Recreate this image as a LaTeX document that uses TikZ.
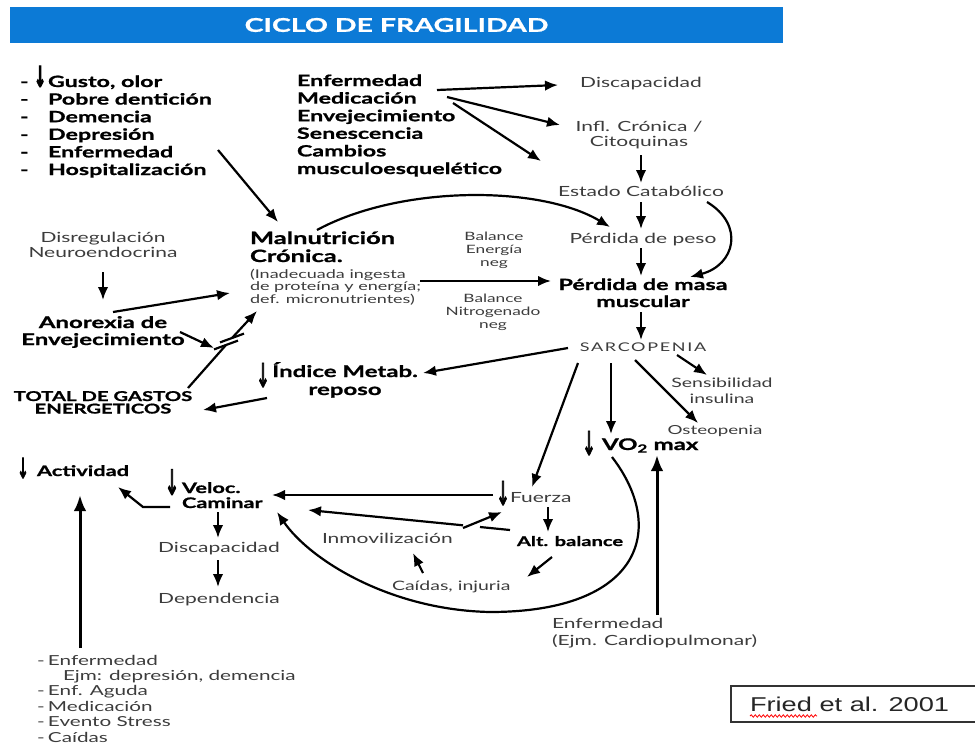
\documentclass[tikz,border=0pt]{standalone}
\usepackage{fontspec}
\setmainfont{Lato}[FakeStretch=1.5, BoldFeatures={FakeBold=1}]
\newfontfamily\symf{DejaVu Sans}[FakeStretch=0.5, FakeBold=2.5]
\newfontfamily\arialf{Liberation Sans}[FakeStretch=1.36]
\usetikzlibrary{arrows.meta,calc,decorations.pathmorphing}
\definecolor{titleblue}{RGB}{12,122,214}
\definecolor{lg}{RGB}{60,60,60}
\newcommand\darrow[1]{{\symf\fontsize{#1}{#1}\selectfont ↓}}
\newcommand\cstack[1]{\vtop{\halign{\hfil##\hfil\cr#1\crcr}}}
\newcommand\lstack[1]{\vtop{\halign{##\hfil\cr#1\crcr}}}
\tikzset{
  every node/.style={inner sep=0pt, outer sep=0pt},
  btxt/.style={text=black, font=\fontsize{15.5}{17.6}\selectfont\bfseries},
  ltxt/.style={text=lg, font=\fontsize{14}{15}\selectfont},
  darr/.style={text=black, font=\symf\fontsize{33}{33}\selectfont},
  conn/.style={draw=black, line width=2.2pt, -{Latex[length=13pt,width=10.5pt]}},
  thickconn/.style={draw=black, line width=3pt, -{Latex[length=16pt,width=12.5pt]}},
  plainline/.style={draw=black, line width=2.2pt},
  titlebar/.style={fill=titleblue, minimum width=773, minimum height=36, text=white,
    font=\fontsize{19}{19}\selectfont\bfseries}
}
\begin{document}
\begin{tikzpicture}[x=1pt,y=-1pt]
\useasboundingbox (0,0) rectangle (975,745);
\fill[white] (0,0) rectangle (975,745);

% title
\node[titlebar] (title) at (396.5,25) {CICLO DE FRAGILIDAD};

% upper lists
\node[btxt, anchor=base west] (causes) at (20,87)
 {\lstack{\makebox[14pt][l]{-}\makebox[14pt][l]{\raisebox{0pt}[0pt][0pt]{\darrow{29}}}Gusto, olor\cr
  \makebox[28pt][l]{-}Pobre dentición\cr
  \makebox[28pt][l]{-}Demencia\cr
  \makebox[28pt][l]{-}Depresión\cr
  \makebox[28pt][l]{-}Enfermedad\cr
  \makebox[28pt][l]{-}Hospitalización}};
\node[btxt, anchor=base west] (factors) at (297,86)
 {\lstack{Enfermedad\cr Medicación\cr Envejecimiento\cr Senescencia\cr Cambios\cr musculoesquelético}};

% right column
\node[ltxt, anchor=base] (discap1) at (641,87) {Discapacidad};
\node[ltxt, anchor=base] (infl) at (639,131) {\cstack{Infl. Crónica /\cr Citoquinas}};
\node[ltxt, anchor=base] (estado) at (641,196) {Estado Catabólico};
\node[ltxt, anchor=base] (peso) at (643,243) {Pérdida de peso};
\node[btxt, anchor=base, font=\fontsize{15.5}{17}\selectfont\bfseries] (masa) at (643,290) {\cstack{Pérdida de masa\cr muscular}};
\node[ltxt, anchor=base, font=\fontsize{12}{12}\selectfont\addfontfeature{LetterSpace=14}] (sarco) at (643,351) {SARCOPENIA};
\node[ltxt, anchor=base, font=\fontsize{13}{16}\selectfont] (sens) at (722,387) {\cstack{Sensibilidad\cr insulina}};
\node[ltxt, anchor=base, font=\fontsize{12.5}{13}\selectfont] (osteo) at (715,434) {Osteopenia};
\node[btxt, anchor=base west, font=\fontsize{16}{16}\selectfont\bfseries] (vo2) at (602,450) {VO\textsubscript{2} max};
\node[darr] (vo2arr) at (589,443) {↓};
\node[ltxt, anchor=base west] (fuerza) at (510,502) {Fuerza};
\node[darr] (fuerzaarr) at (503,493) {↓};
\node[btxt, anchor=base west, font=\fontsize{13.4}{15}\selectfont\bfseries] (altbal) at (517,546) {Alt. balance};
\node[ltxt, anchor=base west, font=\fontsize{13}{15}\selectfont] (caidas) at (392,590) {Caídas, injuria};
\node[ltxt, anchor=base west] (inmov) at (322,543) {Inmovilización};
\node[ltxt, anchor=base west, font=\fontsize{14}{17}\selectfont] (enfcard) at (552,628) {\lstack{Enfermedad\cr (Ejm. Cardiopulmonar)}};

% centre
\node[btxt, anchor=base west, font=\fontsize{17}{18}\selectfont\bfseries] (malnut) at (250,244) {\lstack{Malnutrición\cr Crónica.}};
\node[ltxt, anchor=base west, font=\fontsize{12}{12.5}\selectfont] (malsub) at (250,278) {\lstack{(Inadecuada ingesta\cr de proteína y energía;\cr def. micronutrientes)}};
\node[ltxt, anchor=base, font=\fontsize{11.5}{13}\selectfont] (bale) at (494,240) {\cstack{Balance\cr Energía\cr neg}};
\node[ltxt, anchor=base, font=\fontsize{11.5}{13}\selectfont] (baln) at (493,302) {\cstack{Balance\cr Nitrogenado\cr neg}};

% left
\node[ltxt, anchor=base, font=\fontsize{14}{15}\selectfont] (disreg) at (103,242) {\cstack{Disregulación\cr Neuroendocrina}};
\node[btxt, anchor=base, font=\fontsize{16}{17}\selectfont\bfseries] (anorexia) at (103,328) {\cstack{Anorexia de\cr Envejecimiento}};
\node[btxt, anchor=base, font=\fontsize{13.5}{12.5}\selectfont\bfseries] (total) at (103,401) {\cstack{TOTAL DE GASTOS\cr ENERGETICOS}};
\node[btxt, anchor=base, font=\fontsize{16}{18}\selectfont\bfseries] (indice) at (345,377) {\cstack{Índice Metab.\cr reposo}};
\node[darr] (indarr) at (263,375) {↓};

% lower left
\node[btxt, anchor=base west, font=\fontsize{14.5}{15}\selectfont\bfseries] (activ) at (37,476) {Actividad};
\node[darr, font=\symf\fontsize{28}{28}\selectfont] (activarr) at (23,468) {↓};
\node[btxt, anchor=base west, font=\fontsize{14.5}{15}\selectfont\bfseries] (veloc) at (182,493) {\lstack{Veloc.\cr Caminar}};
\node[darr, font=\symf\fontsize{35}{35}\selectfont] (velarr) at (172,482) {↓};
\node[ltxt, anchor=base] (discap2) at (219,552) {Discapacidad};
\node[ltxt, anchor=base] (depend) at (219,603) {Dependencia};
\node[ltxt, anchor=base west, font=\fontsize{13.8}{15.4}\selectfont] (list2) at (37,665)
 {\lstack{\makebox[11pt][l]{-}Enfermedad\cr
  \hspace*{26pt}Ejm: depresión, demencia\cr
  \makebox[11pt][l]{-}Enf. Aguda\cr
  \makebox[11pt][l]{-}Medicación\cr
  \makebox[11pt][l]{-}Evento Stress\cr
  \makebox[11pt][l]{-}Caídas}};

% citation
\draw[line width=1.2pt, draw=black!80] (731,686) rectangle (990,722);
\node[anchor=base west, font=\arialf\fontsize{20}{20}\selectfont, text=black!85] (fried) at (750,711) {Fried et al. 2001};
\draw[red, line width=0.8pt, decorate, decoration={snake, amplitude=1.2pt, segment length=4pt}]
  ($(fried.base west)+(0,5)$) -- ($(fried.base west)+(67,5)$);

% connectors
\draw[conn] ($(factors.base west)+(140,4)$) -- ($(discap1.base)+(-83,-2)$);
\draw[conn] ($(factors.base west)+(150,11)$) -- ($(infl.base)+(-79,-6)$);
\draw[conn] ($(factors.base west)+(156,17)$) -- ($(estado.base)+(-100,-35)$);
\draw[conn] ($(causes.base west)+(198,63)$) -- ($(malnut.base west)+(28,-22)$);
\draw[conn] ($(infl.base)+(2,24)$) -- ($(estado.base)+(0,-13)$);
\draw[conn] ($(estado.base)+(0,6)$) -- ($(peso.base)+(-2,-14)$);
\draw[conn] ($(peso.base)+(-2,5)$) -- ($(masa.base)+(-2,-14)$);
\draw[conn] ($(estado.base)+(66,6)$) .. controls ($(estado.base)+(104,29)$) and ($(masa.base)+(92,-25)$) .. ($(masa.base)+(47,-13)$);
\draw[conn] ($(malnut.base west)+(67,-14)$) .. controls ($(malnut.base west)+(150,-59)$) and ($(peso.base)+(-103,-58)$) .. ($(peso.base)+(-33,-16)$);
\draw[conn] ($(malsub.base west)+(170,3)$) -- ($(masa.base)+(-92,-9)$);
\draw[conn] ($(masa.base)+(-2,22)$) -- ($(sarco.base)+(-2,-11)$);
\draw[conn] ($(sarco.base)+(-75,-3)$) -- ($(indice.base)+(78,-4)$);
\draw[conn] ($(sarco.base)+(34,4)$) -- ($(sens.base)+(-15,-12)$);
\draw[conn] ($(sarco.base)+(-8,9)$) -- ($(osteo.base)+(-17,-11)$);
\draw[conn] ($(sarco.base)+(-32,12)$) -- ($(vo2.base west)+(9,-16)$);
\draw[conn] ($(sarco.base)+(-65,12)$) -- ($(fuerza.base west)+(22,-15)$);
\draw[conn] ($(fuerza.base west)+(38,5)$) -- ($(altbal.base west)+(31,-14)$);
\draw[conn] ($(altbal.base west)+(35,11)$) -- ($(caidas.base west)+(135,-13)$);
\draw[conn] ($(caidas.base west)+(31,-17)$) -- ($(inmov.base west)+(91,10)$);
\draw[plainline] ($(altbal.base west)+(-7,-16)$) -- ($(altbal.base west)+(-37,-19)$);
\draw[conn] ($(altbal.base west)+(-54,-20.7)$) -- ($(veloc.base west)+(126,17)$);
\draw[conn] ($(inmov.base west)+(141,-15)$) -- ($(fuerza.base west)+(-8,10)$);
\draw[conn] ($(fuerza.base west)+(-17,-7)$) -- ($(veloc.base west)+(90,2)$);
\draw[conn] ($(vo2.base west)+(10,7)$) .. controls ($(vo2.base west)+(66,80)$) and ($(caidas.base west)+(248,22)$) .. ($(caidas.base west)+(98,22)$)
  .. controls ($(caidas.base west)+(-2,20)$) and ($(veloc.base west)+(128,67)$) .. ($(veloc.base west)+(95,19)$);
\draw[thickconn] ($(enfcard.base west)+(105,-13)$) -- ($(vo2.base west)+(55,5)$);
\draw[conn] ($(disreg.base)+(0,30)$) -- ($(anorexia.base)+(0,-28)$);
\draw[conn] ($(anorexia.base)+(10,-16)$) -- ($(malsub.base west)+(-20,15)$);
\coordinate (brkl) at (226,345);
\coordinate (brku) at (232,338);
\draw[conn] ($(anorexia.base)+(77,4)$) -- ($(brkl)+(-12,3)$);
\draw[plainline] ($(total.base)+(85,-13)$) -- (brkl);
\draw[plainline] ($(brkl)+(-12,4.4)$) -- ($(brkl)+(12,-4.4)$);
\draw[plainline] ($(brku)+(-12,4.4)$) -- ($(brku)+(12,-4.4)$);
\draw[conn] (brku) -- ($(malsub.base west)+(7,33)$);
\draw[conn] ($(indice.base)+(-78,21)$) -- ($(total.base)+(100,9)$);
\draw[conn] ($(veloc.base west)+(-12,14)$) -- ++(-27,0) -- ($(activ.base west)+(81,11)$);
\draw[conn] ($(veloc.base west)+(36,19)$) -- ($(discap2.base)+(-1,-14)$);
\draw[conn] ($(discap2.base)+(-1,8)$) -- ($(depend.base)+(-1,-16)$);
\draw[thickconn] ($(list2.base west)+(43,-17)$) -- ($(activ.base west)+(43,19)$);
\end{tikzpicture}
\end{document}
